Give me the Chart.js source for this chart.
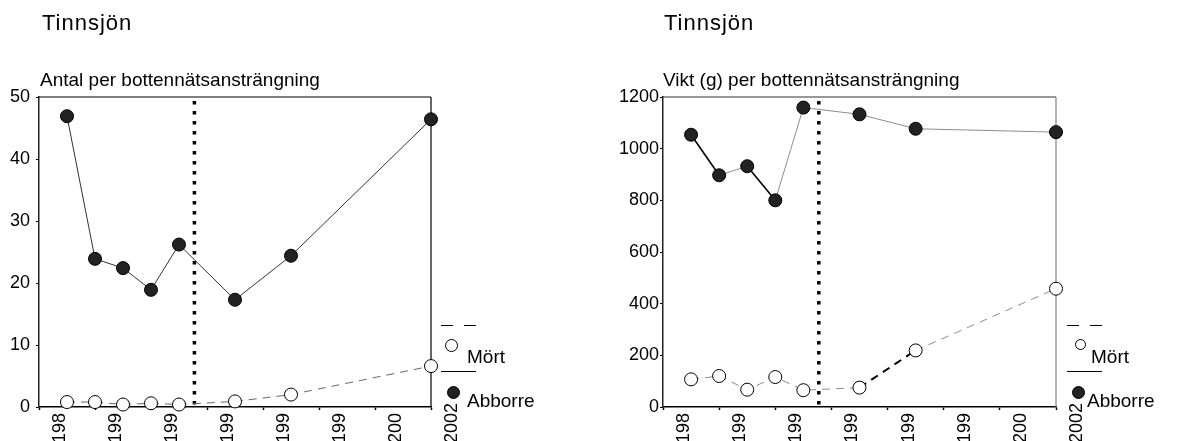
<!DOCTYPE html>
<html lang="sv">
<head>
<meta charset="utf-8">
<script src="https://cdn.jsdelivr.net/npm/chart.js@4/dist/chart.umd.min.js"></script>
<style>
  body { margin: 0; background: #fff; font-family: "Liberation Sans", Arial, sans-serif; color: #000; }
  #lienzo { position: relative; width: 1177px; height: 441px; overflow: hidden; }
  canvas { position: absolute; top: 0; }
  .titulo { position: absolute; font-size: 22px; line-height: 22px; letter-spacing: 1px; white-space: nowrap; }
  .sub { position: absolute; font-size: 19px; line-height: 19px; white-space: nowrap; }
  .ley-txt { position: absolute; font-size: 19px; line-height: 19px; white-space: nowrap; }
  .guion { position: absolute; width: 35px; height: 1px;
           background: linear-gradient(90deg, #000 0 12px, transparent 12px 23px, #000 23px 35px); }
  .solida { position: absolute; width: 35px; height: 1px; background: #000; }
  .marca { position: absolute; border-radius: 50%; box-sizing: border-box; }
  .hueca { border: 1px solid #000; background: #fff; }
  .llena { background: #222; border: 1px solid #000; }
</style>
</head>
<body>
<div id="lienzo">
  <canvas id="graficoAntal" width="588" height="441" style="left:0"></canvas>
  <canvas id="graficoVikt" width="589" height="441" style="left:588px"></canvas>

  <div class="titulo" style="left:42px; top:12px">Tinnsjön</div>
  <div class="sub" style="left:40px; top:70px">Antal per bottennätsansträngning</div>
  <div class="titulo" style="left:664px; top:12px">Tinnsjön</div>
  <div class="sub" style="left:663px; top:70px">Vikt (g) per bottennätsansträngning</div>

  <!-- Leyenda izquierda -->
  <div class="guion" style="left:441px; top:325px"></div>
  <div class="marca hueca" style="left:445px; top:339px; width:13px; height:13px"></div>
  <div class="ley-txt" style="left:467px; top:347px">Mört</div>
  <div class="solida" style="left:441px; top:371px"></div>
  <div class="marca llena" style="left:447px; top:386px; width:13px; height:13px"></div>
  <div class="ley-txt" style="left:467px; top:391px">Abborre</div>

  <!-- Leyenda derecha -->
  <div class="guion" style="left:1067px; top:325px"></div>
  <div class="marca hueca" style="left:1075px; top:339px; width:11px; height:11px"></div>
  <div class="ley-txt" style="left:1091px; top:347px">Mört</div>
  <div class="solida" style="left:1067px; top:371px"></div>
  <div class="marca llena" style="left:1072px; top:386px; width:13px; height:13px"></div>
  <div class="ley-txt" style="left:1087px; top:391px">Abborre</div>
</div>

<script>
// Datos
const anios = [1989, 1990, 1991, 1992, 1993, 1995, 1997, 2002];
const aniosEje = [1988, 1990, 1992, 1994, 1996, 1998, 2000, 2002];
const etiquetasX = ["198", "199", "199", "199", "199", "199", "200", "2002"];
const abborreAntal = [46.9, 23.9, 22.4, 18.9, 26.2, 17.3, 24.4, 46.4];
const mortAntal = [0.8, 0.8, 0.4, 0.6, 0.4, 0.9, 2.0, 6.6];
const abborreVikt = [1054, 897, 932, 800, 1159, 1133, 1077, 1064];
const mortVikt = [107, 120, 67, 116, 65, 75, 219, 458];
const anioKalkning = 1993.55;

const fuente = { family: "'Liberation Sans', Arial, sans-serif", size: 18 };

const puntos = (ys) => anios.map((x, i) => ({ x, y: ys[i] }));

// Línea de puntos vertical (kalkning) y marco superior/derecho del área
const marcoYKalkning = {
  id: "marcoYKalkning",
  beforeDatasetsDraw(chart, args, opts) {
    const { ctx, chartArea: a, scales } = chart;
    ctx.save();
    ctx.lineWidth = 1.2;
    ctx.strokeStyle = opts.colorArriba;
    ctx.beginPath();
    ctx.moveTo(a.left, a.top);
    ctx.lineTo(a.right, a.top);
    ctx.stroke();
    ctx.strokeStyle = opts.colorDerecha;
    ctx.beginPath();
    ctx.moveTo(a.right, a.top);
    ctx.lineTo(a.right, a.bottom);
    ctx.stroke();

    const x = scales.x.getPixelForValue(anioKalkning);
    ctx.strokeStyle = "#000";
    ctx.lineWidth = 3.5;
    ctx.setLineDash([3.5, 6.5]);
    ctx.beginPath();
    ctx.moveTo(x, a.top + 4);
    ctx.lineTo(x, a.bottom);
    ctx.stroke();
    ctx.restore();
  },
};

// Las etiquetas del eje X van giradas y apoyadas en el borde inferior,
// así "2002" sube más que las etiquetas recortadas de 3 cifras
const etiquetasGiradas = {
  id: "etiquetasGiradas",
  afterDraw(chart) {
    const { ctx, scales } = chart;
    const x = scales.x;
    ctx.save();
    ctx.font = `${fuente.size}px ${fuente.family}`;
    ctx.fillStyle = "#000";
    ctx.textAlign = "left";
    ctx.textBaseline = "middle";
    x.ticks.forEach((t, i) => {
      ctx.save();
      ctx.translate(x.getPixelForValue(t.value) + 21, chart.height + 2);
      ctx.rotate(-Math.PI / 2);
      ctx.fillText(etiquetasX[i], 0, 0);
      ctx.restore();
    });
    ctx.restore();
  },
};

function crearGrafico(id, cfg) {
  const ctx = document.getElementById(id).getContext("2d");
  return new Chart(ctx, {
    type: "line",
    data: {
      datasets: [
        {
          label: "Mört",
          data: puntos(cfg.mort),
          borderColor: "#666",
          borderWidth: 1,
          borderDash: [8, 6],
          pointStyle: "circle",
          pointRadius: 6.5,
          pointBackgroundColor: "#fff",
          pointBorderColor: "#000",
          pointBorderWidth: 1,
          segment: cfg.segmentoMort,
          clip: false,
        },
        {
          label: "Abborre",
          data: puntos(cfg.abborre),
          borderColor: "#333",
          borderWidth: 1,
          pointRadius: 6.5,
          pointBackgroundColor: "#222",
          pointBorderColor: "#000",
          pointBorderWidth: 1,
          segment: cfg.segmentoAbborre,
          clip: false,
        },
      ],
    },
    options: {
      responsive: false,
      animation: false,
      layout: { padding: { left: 0, right: cfg.derecha, top: 97, bottom: 0 } },
      plugins: {
        legend: { display: false },
        tooltip: { enabled: false },
        marcoYKalkning: { colorArriba: cfg.colorArriba, colorDerecha: cfg.colorDerecha },
      },
      scales: {
        x: {
          type: "linear",
          min: 1988,
          max: 2002,
          afterBuildTicks: (s) => { s.ticks = aniosEje.map((v) => ({ value: v })); },
          afterFit: (s) => { s.height = 34; },
          grid: { drawOnChartArea: false, tickLength: 3, tickColor: "#000", tickWidth: 1.5 },
          border: { color: "#000", width: 1.5 },
          ticks: { display: false },
        },
        y: {
          min: 0,
          max: cfg.maxY,
          afterFit: (s) => { s.width = cfg.anchoY; },
          grid: { drawOnChartArea: false, tickLength: 3, tickColor: "#000" },
          border: { color: "#222", width: 1.5 },
          ticks: {
            stepSize: cfg.paso,
            padding: cfg.padY,
            color: "#000",
            font: fuente,
            callback: (v) => String(v),
          },
        },
      },
    },
    plugins: [marcoYKalkning, etiquetasGiradas],
  });
}

crearGrafico("graficoAntal", {
  mort: mortAntal,
  abborre: abborreAntal,
  maxY: 50,
  paso: 10,
  anchoY: 39,
  padY: 6,
  derecha: 157,
  colorArriba: "#000",
  colorDerecha: "#000",
});

// En el gráfico de peso algunos tramos salen más oscuros y gruesos
const tramosOscurosAbborre = [0, 2];
const tramosOscurosMort = [5];
crearGrafico("graficoVikt", {
  mort: mortVikt,
  abborre: abborreVikt,
  maxY: 1200,
  paso: 200,
  anchoY: 75,
  padY: 1,
  derecha: 121,
  colorArriba: "#333",
  colorDerecha: "#808080",
  segmentoAbborre: {
    borderColor: (c) => (tramosOscurosAbborre.includes(c.p0DataIndex) ? "#000" : "#8c8c8c"),
    borderWidth: (c) => (tramosOscurosAbborre.includes(c.p0DataIndex) ? 1.6 : 1),
  },
  segmentoMort: {
    borderColor: (c) => (tramosOscurosMort.includes(c.p0DataIndex) ? "#000" : "#8c8c8c"),
    borderWidth: (c) => (tramosOscurosMort.includes(c.p0DataIndex) ? 2 : 1),
  },
});
</script>
</body>
</html>
